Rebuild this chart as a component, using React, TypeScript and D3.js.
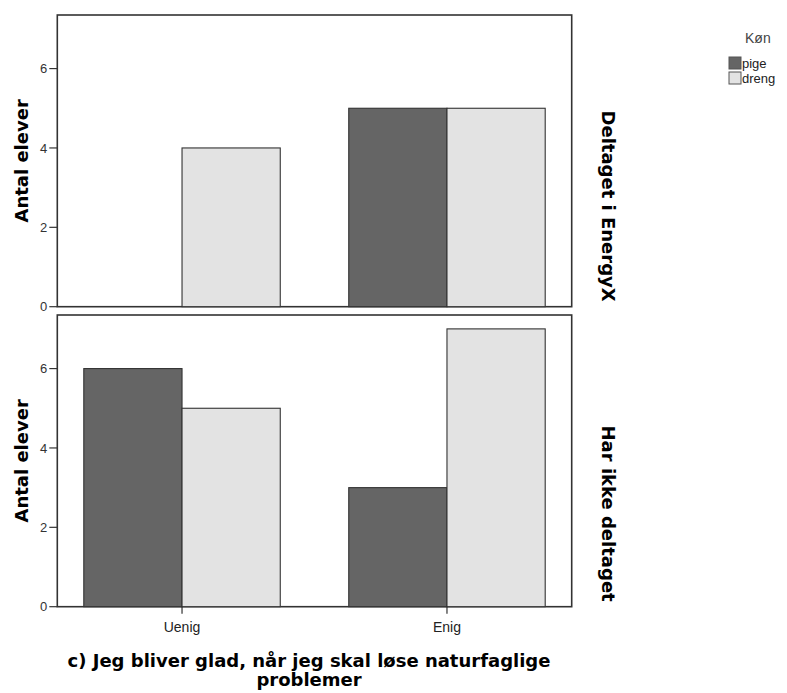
import React from "react";
import * as d3 from "d3";

const categories = ["Uenig", "Enig"];
const genders = ["pige", "dreng"];
const panels = ["Deltaget i EnergyX", "Har ikke deltaget"];
// values[panel][category] = [pige, dreng]
const deltagetValues = [
  [0, 4],
  [5, 5],
];
const ikkeDeltagetValues = [
  [6, 5],
  [3, 7],
];
const yTicks = [0, 2, 4, 6];
const genderColors = ["#656565", "#e3e3e3"];
const yLabel = "Antal elever";
const xTitleLines = ["c) Jeg bliver glad, når jeg skal løse naturfaglige", "problemer"];
const legendTitle = "Køn";

const W = 787;
const H = 693;
const left = 57.3;
const right = 571.7;
const panelBoxes = [
  { top: 15, bottom: 306.7 },
  { top: 315, bottom: 606.7 },
];

export default function App() {
  const x = d3
    .scaleBand<string>()
    .domain(categories)
    .range([left, right])
    .paddingInner(0.2585)
    .paddingOuter(0.1);
  const xg = d3.scaleBand<string>().domain(genders).range([0, x.bandwidth()]).padding(0);
  const data = [deltagetValues, ikkeDeltagetValues];
  const bold = "'DejaVu Sans', sans-serif";
  const reg = "'Liberation Sans', Arial, sans-serif";

  return (
    <svg
      width={W}
      height={H}
      style={{ position: "absolute", left: 0, top: 0, background: "#fff" }}
    >
      {panelBoxes.map((pb, pi) => {
        const y = d3.scaleLinear().domain([0, 7.35]).range([pb.bottom, pb.top]);
        return (
          <g key={pi}>
            <rect
              x={left}
              y={pb.top}
              width={right - left}
              height={pb.bottom - pb.top}
              fill="#fff"
              stroke="#333"
              strokeWidth={1.6}
            />
            {categories.map((c, ci) =>
              genders.map((g, gi) => {
                const v = data[pi][ci][gi];
                const bx = (x(c) as number) + (xg(g) as number);
                return (
                  <rect
                    key={c + g}
                    x={bx}
                    y={y(v)}
                    width={xg.bandwidth()}
                    height={y(0) - y(v)}
                    fill={genderColors[gi]}
                    stroke="#333"
                    strokeWidth={1.1}
                  />
                );
              })
            )}
            {yTicks.map((t) => (
              <g key={t}>
                <line x1={left - 8} x2={left} y1={y(t)} y2={y(t)} stroke="#333" strokeWidth={1.2} />
                <text
                  x={left - 10}
                  y={y(t)}
                  dy="0.35em"
                  textAnchor="end"
                  fontFamily={reg}
                  fontSize={13}
                  fill="#333"
                >
                  {t}
                </text>
              </g>
            ))}
            <text
              transform={`translate(28,${(pb.top + pb.bottom) / 2}) rotate(-90)`}
              textAnchor="middle"
              fontFamily={bold}
              fontWeight="bold"
              fontSize={18}
              fill="#000"
            >
              {yLabel}
            </text>
            <text
              transform={`translate(602,${pb.bottom - 5}) rotate(90)`}
              textAnchor="end"
              fontFamily={bold}
              fontWeight="bold"
              fontSize={18}
              fill="#000"
            >
              {panels[pi]}
            </text>
          </g>
        );
      })}
      {categories.map((c) => {
        const cx = (x(c) as number) + x.bandwidth() / 2;
        return (
          <g key={c}>
            <line x1={cx} x2={cx} y1={panelBoxes[1].bottom} y2={panelBoxes[1].bottom + 7} stroke="#333" strokeWidth={1.2} />
            <text x={cx} y={632} textAnchor="middle" fontFamily={reg} fontSize={14} fill="#222">
              {c}
            </text>
          </g>
        );
      })}
      {xTitleLines.map((l, i) => (
        <text
          key={i}
          x={309}
          y={667 + i * 19}
          textAnchor="middle"
          fontFamily={bold}
          fontWeight="bold"
          fontSize={18}
          fill="#000"
        >
          {l}
        </text>
      ))}
      <text x={745} y={43} fontFamily={reg} fontSize={14} fill="#444">
        {legendTitle}
      </text>
      {genders.map((g, gi) => (
        <g key={g}>
          <rect
            x={729}
            y={57 + gi * 15}
            width={12}
            height={12}
            fill={genderColors[gi]}
            stroke="#555"
            strokeWidth={1}
          />
          <text x={742} y={68 + gi * 15} fontFamily={reg} fontSize={13} fill="#222">
            {g}
          </text>
        </g>
      ))}
    </svg>
  );
}
